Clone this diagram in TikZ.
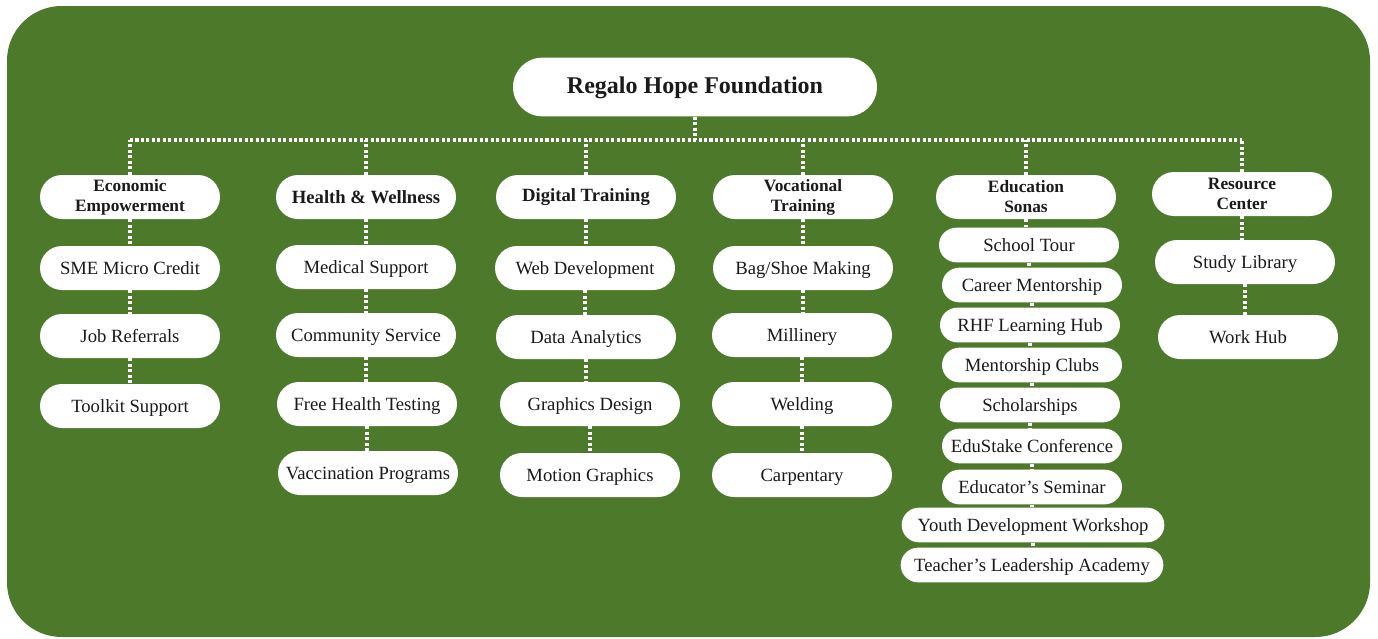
\documentclass[tikz,border=0pt]{standalone}
\usepackage{fontspec}
\setmainfont{Liberation Serif}
\usetikzlibrary{positioning}
\definecolor{rhfgreen}{RGB}{76,122,42}
\definecolor{rhftext}{RGB}{26,26,26}
\tikzstyle{link} = [white, line width=2.3pt, dash pattern=on 2.3pt off 1.8pt]
\tikzstyle{rootbox} = [rectangle, rounded corners=22pt, minimum width=273pt, minimum height=44pt, inner sep=0pt, fill=white, text=rhftext, text height=13pt, text depth=3pt, font=\bfseries\fontsize{18}{20}\selectfont]
\tikzstyle{headbox} = [rectangle, rounded corners=16.5pt, minimum width=135pt, minimum height=33pt, inner sep=0pt, fill=white, text=rhftext, align=center, font=\bfseries\fontsize{14}{16}\selectfont]
\tikzstyle{headbox2} = [headbox, font=\bfseries\fontsize{13}{15}\selectfont]
\tikzstyle{itembox} = [rectangle, rounded corners=16.5pt, minimum width=135pt, minimum height=33pt, inner sep=0pt, fill=white, text=rhftext, text height=11pt, text depth=2pt, font=\fontsize{14}{16}\selectfont]
\tikzstyle{edubox} = [itembox, rounded corners=13pt, minimum height=26pt]

\begin{document}
\begin{tikzpicture}[x=0.75pt, y=-0.75pt]
\useasboundingbox (0,0) rectangle (1378,639);
\fill[rhfgreen, rounded corners=41pt] (7,6) rectangle (1370,637);

% Root
\node[rootbox] (root) at (695,87) {Regalo Hope Foundation};

% Programme heads
\node[headbox2] (econ) at (130,197) {Economic\\Empowerment};
\node[headbox] (health) at (366,197) {Health \& Wellness};
\node[headbox] (digital) at (586,197) {Digital Training};
\node[headbox2] (voc) at (803,197) {Vocational\\Training};
\node[headbox2] (edu) at (1026,197) {Education\\Sonas};
\node[headbox2] (res) at (1242,194) {Resource\\Center};

% Economic Empowerment
\node[itembox] (sme) at (130,268) {SME Micro Credit};
\node[itembox] (jobs) at (130,336) {Job Referrals};
\node[itembox] (toolkit) at (130,406) {Toolkit Support};

% Health & Wellness
\node[itembox] (medical) at (366,267) {Medical Support};
\node[itembox] (community) at (366,335) {Community Service};
\node[itembox] (testing) at (367,404) {Free Health Testing};
\node[itembox] (vaccine) at (368,473) {Vaccination Programs};

% Digital Training
\node[itembox] (web) at (585,268) {Web Development};
\node[itembox] (analytics) at (586,337) {Data Analytics};
\node[itembox] (graphics) at (590,404) {Graphics Design};
\node[itembox] (motion) at (590,475) {Motion Graphics};

% Vocational Training
\node[itembox] (bagshoe) at (803,268) {Bag/Shoe Making};
\node[itembox] (millinery) at (802,335) {Millinery};
\node[itembox] (welding) at (802,404) {Welding};
\node[itembox] (carpentry) at (802,475) {Carpentary};

% Education Sonas
\node[edubox] (tour) at (1029,245) {School Tour};
\node[edubox] (career) at (1032,285) {Career Mentorship};
\node[edubox] (hub) at (1030,325) {RHF Learning Hub};
\node[edubox] (clubs) at (1032,365) {Mentorship Clubs};
\node[edubox] (scholar) at (1030,405) {Scholarships};
\node[edubox] (edustake) at (1032,446) {EduStake Conference};
\node[edubox] (seminar) at (1032,487) {Educator’s Seminar};
\node[edubox, minimum width=197pt] (youth) at (1033,525) {Youth Development Workshop};
\node[edubox, minimum width=197pt] (academy) at (1032,565) {Teacher’s Leadership Academy};

% Resource Center
\node[itembox] (study) at (1245,262) {Study Library};
\node[itembox] (workhub) at (1248,337) {Work Hub};

% Bus
\coordinate (bus) at (695,140);
\draw[link] (root) -- (bus);
\draw[link] (econ.north |- bus) -- (res.north |- bus);
\foreach \h in {econ,health,digital,voc,edu,res}
  \draw[link] (\h) -- (\h.north |- bus);

% Columns
\foreach \a/\b in {econ/sme, sme/jobs, jobs/toolkit,
    health/medical, medical/community, community/testing, testing/vaccine,
    digital/web, web/analytics, analytics/graphics, graphics/motion,
    voc/bagshoe, bagshoe/millinery, millinery/welding, welding/carpentry,
    edu/tour, tour/career, career/hub, hub/clubs, clubs/scholar,
    scholar/edustake, edustake/seminar, seminar/youth, youth/academy,
    res/study, study/workhub}
  \draw[link] (\a.south) -- (\a.south |- \b.north);
\end{tikzpicture}
\end{document}
